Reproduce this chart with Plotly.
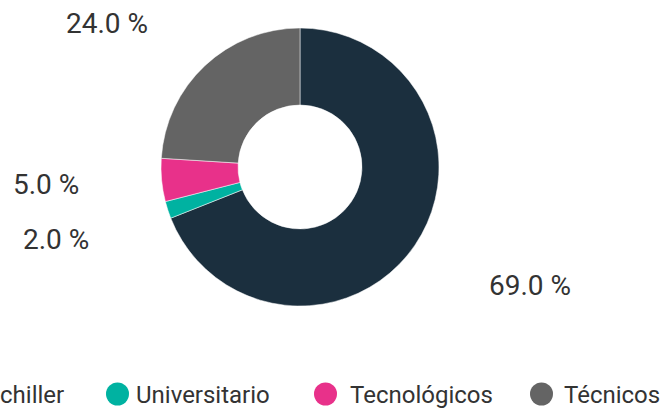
import math
import plotly.graph_objects as go

# ---- data ----
categories = ["Bachiller", "Universitario", "Tecnológicos", "Técnicos"]
values = [69.0, 2.0, 5.0, 24.0]
colors = ["#1b2f3e", "#00b2a1", "#e8318a", "#646464"]

# ---- layout constants (pixels) ----
W, H = 660, 410
CX, CY = 300, 167                    # pie centre
R = 139                              # outer radius
LAB_CX, LAB_CY = 303, 171            # centre of the label ellipse
LAB_RX, LAB_RY = 223, 203            # ellipse on which the % labels sit
LAB_MIN_GAP = 55                     # minimum vertical spacing of labels on one side
LEG_Y = 394                          # legend row centre
LEG_X = [-50, 117.5, 325.5, 541.5]   # legend symbol centres
LEG_TX = [-30, 133.5, 347.5, 562]    # legend text starts
LEG_R = 11.5
TEXT_COLOR = "#333333"
FONT = "Roboto"


def fx(px):
    return px / W


def fy(py):
    return (H - py) / H


fig = go.Figure(
    go.Pie(
        labels=categories,
        values=values,
        hole=0.446,
        sort=False,
        direction="clockwise",
        rotation=0,
        marker=dict(colors=colors, line=dict(color="white", width=0.5)),
        textinfo="none",
        hoverinfo="label+percent",
        showlegend=False,
        domain=dict(x=[fx(CX - R), fx(CX + R)], y=[fy(CY + R), fy(CY - R)]),
    )
)

annotations = []
shapes = []

# percentage labels, placed from the slice mid-angles
total = sum(values)
cum = 0.0
labels = []
for v in values:
    mid = (cum + v / 2) / total
    cum += v
    a = 2 * math.pi * mid
    labels.append(dict(
        x=LAB_CX + LAB_RX * math.sin(a),
        y=LAB_CY - LAB_RY * math.cos(a),
        right=math.sin(a) > 0,
        text=f"{v / total * 100:.1f} %",
    ))

# simple collision avoidance: spread labels on the same side apart
for side in (True, False):
    group = sorted([l for l in labels if l["right"] == side], key=lambda l: l["y"])
    for a_, b_ in zip(group, group[1:]):
        gap = b_["y"] - a_["y"]
        if gap < LAB_MIN_GAP:
            shift = (LAB_MIN_GAP - gap) / 2
            a_["y"] -= shift
            b_["y"] += shift

for l in labels:
    annotations.append(dict(
        x=fx(l["x"]), y=fy(l["y"]), xref="paper", yref="paper",
        text=l["text"], showarrow=False,
        xanchor="left" if l["right"] else "right", yanchor="middle",
        font=dict(family=FONT, size=28, color=TEXT_COLOR),
    ))

# legend row (drawn manually so that it can run past the left edge)
for name, col, lx, tx in zip(categories, colors, LEG_X, LEG_TX):
    shapes.append(dict(
        type="circle", xref="paper", yref="paper",
        x0=fx(lx - LEG_R), x1=fx(lx + LEG_R),
        y0=fy(LEG_Y + LEG_R), y1=fy(LEG_Y - LEG_R),
        fillcolor=col, line=dict(width=0),
    ))
    annotations.append(dict(
        x=fx(tx), y=fy(LEG_Y + 1), xref="paper", yref="paper",
        text=name, showarrow=False, xanchor="left", yanchor="middle",
        font=dict(family=FONT, size=24, color=TEXT_COLOR),
    ))

fig.update_layout(
    width=W, height=H, autosize=False,
    margin=dict(l=0, r=0, t=0, b=0, autoexpand=False),
    paper_bgcolor="white", plot_bgcolor="white",
    font=dict(family=FONT, color=TEXT_COLOR),
    annotations=annotations, shapes=shapes,
)

# place the figure flush with the page corner (no default body margin)
fig.write_html(
    "out.html",
    config={"displayModeBar": False},
    post_script="document.body.style.margin = '0';",
)
